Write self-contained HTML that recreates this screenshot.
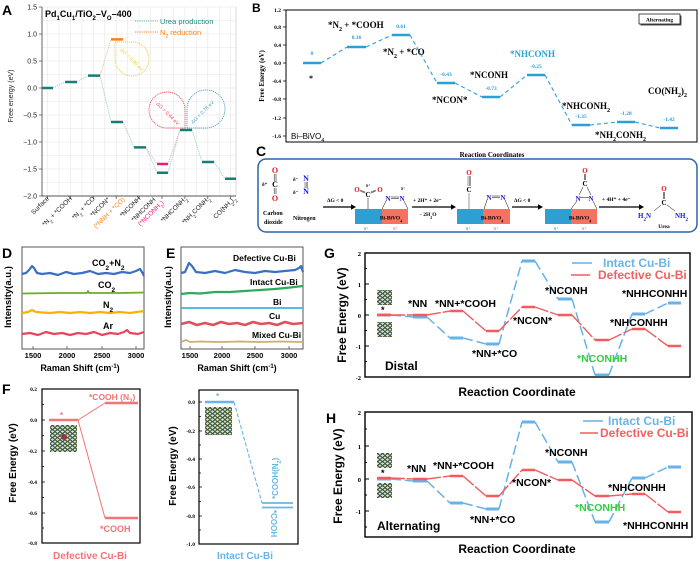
<!DOCTYPE html>
<html><head><meta charset="utf-8"><style>
html,body{margin:0;padding:0;background:#fff;}
svg{display:block;}
text{font-family:"Liberation Sans",Arial,sans-serif;}
text.s,.s text,.s tspan{font-family:"Liberation Serif","Times New Roman",serif;font-weight:bold;}
text.b,.b text{font-weight:bold;}
</style></head><body>
<svg width="700" height="563" viewBox="0 0 700 563" xmlns="http://www.w3.org/2000/svg">
<defs>
<pattern id="cry" width="5" height="4" patternUnits="userSpaceOnUse"><rect width="5" height="4" fill="#c8e4ec"/><path d="M0,4 Q2.5,-0.5 5,4 M-2.5,2 Q0,-2 2.5,2 M2.5,2 Q5,-2 7.5,2" stroke="#3d4a1c" stroke-width="1" fill="none"/></pattern>
</defs>

<!-- ================= PANEL A ================= -->
<text x="2" y="15" font-size="14" class="b">A</text>
<path d="M42,20.5H236M42,34H236M42,47.5H236M42,61H236M42,74.5H236M42,88H236M42,101.5H236M42,115H236M42,128.5H236M42,142H236M42,155.5H236M42,169H236M42,182.5H236M42,7H236" stroke="#e6e6e6" stroke-width="0.6"/>
<path d="M47.5,7V196M59,7V196M70.4,7V196M81.9,7V196M93.3,7V196M104.8,7V196M116.2,7V196M127.7,7V196M139.1,7V196M150.6,7V196M162,7V196M173.5,7V196M184.9,7V196M196.4,7V196M207.8,7V196M219.3,7V196M230.7,7V196" stroke="#e6e6e6" stroke-width="0.6"/>
<path d="M236,7V196" stroke="#d0d0d0" stroke-width="0.8"/>
<path d="M42,7V196H236" stroke="#555" stroke-width="0.9" fill="none"/>
<path d="M39,7H42M39,34H42M39,61H42M39,88H42M39,115H42M39,142H42M39,169H42M39,196H42M47.5,196V199M70.4,196V199M93.3,196V199M116.2,196V199M139.1,196V199M162,196V199M184.9,196V199M207.8,196V199M230.7,196V199" stroke="#555" stroke-width="0.8"/>
<g font-size="7" text-anchor="end" fill="#222">
<text x="37" y="9.5">1.5</text><text x="37" y="36.5">1.0</text><text x="37" y="63.5">0.5</text><text x="37" y="90.5">0.0</text>
<text x="37" y="117.5">−0.5</text><text x="37" y="144.5">−1.0</text><text x="37" y="171.5">−1.5</text><text x="37" y="198.5">−2.0</text>
</g>
<text transform="translate(13,96) rotate(-90)" font-size="7" text-anchor="middle" fill="#222">Free energy (eV)</text>
<text x="45" y="17" font-size="9" class="b">Pd<tspan font-size="6" baseline-shift="sub">1</tspan>Cu<tspan font-size="6" baseline-shift="sub">1</tspan>/TiO<tspan font-size="6" baseline-shift="sub">2</tspan>–V<tspan font-size="6" baseline-shift="sub">O</tspan>–400</text>
<path d="M135,21H158" stroke="#5fb8b0" stroke-width="0.9" stroke-dasharray="1.2,1"/>
<text x="160" y="24" font-size="7.5" fill="#1b8a80">Urea production</text>
<path d="M135,32H158" stroke="#f5821f" stroke-width="0.9" stroke-dasharray="1.2,1"/>
<text x="160" y="35" font-size="7.5" fill="#f5821f">N<tspan font-size="5" baseline-shift="sub">2</tspan> reduction</text>
<g stroke="#8fcfc8" stroke-width="0.9" stroke-dasharray="1.2,1" fill="none">
<path d="M53,88L65,82M77,82L88,75.6M100,75.6L111,122M123,122L134,147.4M146,147.4L157,172.8M168,172.8L180,130M192,130L202,162M214,162L225,178.7"/>
</g>
<path d="M100,75.6L111,39.4" stroke="#f7b38a" stroke-width="0.9" stroke-dasharray="1.2,1"/>
<path d="M146,147.4L157,164M168,164L180,130" stroke="#f3a0c4" stroke-width="0.9" stroke-dasharray="1.2,1"/>
<path d="M115,42L133,42A17,17 0 1 1 115,60Z" fill="none" stroke="#f5c842" stroke-width="0.9" stroke-dasharray="1.2,0.8"/>
<text transform="translate(120,50) rotate(45)" font-size="5" fill="#f5c842">ΔG = 0.90 eV</text>
<path d="M185,128L185,110A18,18 0 1 0 167,128Z" fill="none" stroke="#ef4a5a" stroke-width="0.9" stroke-dasharray="1.2,0.8"/>
<text transform="translate(156,104) rotate(45)" font-size="5" fill="#ef4a5a">ΔG = 0.64 eV</text>
<path d="M187,128L187,110A19,19 0 1 1 206,128Z" fill="none" stroke="#4aa0b8" stroke-width="0.9" stroke-dasharray="1.2,0.8"/>
<text transform="translate(193,124) rotate(-45)" font-size="5" fill="#4aa0b8">ΔG = 0.78 eV</text>
<g stroke="#177e74" stroke-width="2.5">
<path d="M42,88H53M65,82H77M88,75.6H100M111,122H123M134,147.4H146M157,172.8H168M180,130H192M202,162H214M225,178.7H236"/>
</g>
<path d="M111,39.4H123" stroke="#f5821f" stroke-width="2.5"/>
<path d="M157,164H168" stroke="#ec1c7c" stroke-width="2.5"/>
<g font-size="6.5" text-anchor="end" fill="#222">
<text transform="translate(49.5,199) rotate(-45)">Surface</text>
<text transform="translate(72.4,199) rotate(-45)">*N<tspan font-size="4.5" baseline-shift="sub">2</tspan> + *COOH</text>
<text transform="translate(95.3,199) rotate(-45)">*N<tspan font-size="4.5" baseline-shift="sub">2</tspan> + *CO</text>
<text transform="translate(110,200) rotate(-45)">*NCON*</text>
<text transform="translate(125,200) rotate(-45)" fill="#f5821f">(*NNH + *CO)</text>
<text transform="translate(141,199) rotate(-45)">*NCONH</text>
<text transform="translate(156,200) rotate(-45)">*NHCONH</text>
<text transform="translate(164,203) rotate(-45)" fill="#ec1c7c">(*NCONH<tspan font-size="4.5" baseline-shift="sub">2</tspan>)</text>
<text transform="translate(187,199) rotate(-45)">*NHCONH<tspan font-size="4.5" baseline-shift="sub">2</tspan></text>
<text transform="translate(210,199) rotate(-45)">*NH<tspan font-size="4.5" baseline-shift="sub">2</tspan>CONH<tspan font-size="4.5" baseline-shift="sub">2</tspan></text>
<text transform="translate(236,199) rotate(-45)">CO(NH<tspan font-size="4.5" baseline-shift="sub">2</tspan>)<tspan font-size="4.5" baseline-shift="sub">2</tspan></text>
</g>

<!-- ================= PANEL B ================= -->
<text x="252" y="12" font-size="12" class="b">B</text>
<rect x="286" y="10" width="411" height="132" fill="none" stroke="#000" stroke-width="1"/>
<path d="M283,10H286M283,27H286M283,45H286M283,63H286M283,81H286M283,99H286M283,118H286M283,136H286" stroke="#000" stroke-width="0.7"/>
<g class="s" font-size="5.5" text-anchor="end">
<text x="281" y="12">1.2</text><text x="281" y="29">0.8</text><text x="281" y="47">0.4</text><text x="281" y="65">0.0</text>
<text x="281" y="83">-0.4</text><text x="281" y="101">-0.8</text><text x="281" y="120">-1.2</text><text x="281" y="138">-1.6</text>
</g>
<text transform="translate(264,76) rotate(-90)" class="s" font-size="7" text-anchor="middle">Free Energy (eV)</text>
<path d="M321,63L347,47M366,47L392,35M410,35L437,83M455,83L482,97M500,97L527,75M545,75L572,125M590,125L617,122M635,122L660,128" stroke="#2aa0d6" stroke-width="1.1" stroke-dasharray="4,3" fill="none"/>
<path d="M303,63H321M347,47H366M392,35H410M437,83H455M482,97H500M527,75H545M572,125H590M617,122H635M660,128H678" stroke="#2aa0d6" stroke-width="2.6"/>
<g class="s" font-size="5.5" text-anchor="middle" fill="#2aa0d6">
<text x="312" y="55">0</text><text x="356.5" y="39">0.36</text><text x="401" y="28">0.61</text><text x="446" y="76">-0.43</text>
<text x="491" y="90">-0.73</text><text x="536" y="68">-0.25</text><text x="581" y="118">-1.35</text><text x="626" y="115">-1.28</text><text x="669" y="121">-1.42</text>
</g>
<g class="s" font-size="9">
<text x="309" y="81" font-size="8">*</text>
<text x="328" y="28">*N<tspan font-size="6" baseline-shift="sub">2</tspan> + *COOH</text>
<text x="383" y="55">*N<tspan font-size="6" baseline-shift="sub">2</tspan> + *CO</text>
<text x="432" y="103">*NCON*</text>
<text x="470" y="78">*NCONH</text>
<text x="510" y="57" fill="#2aa0d6">*NHCONH</text>
<text x="562" y="109">*NHCONH<tspan font-size="6" baseline-shift="sub">2</tspan></text>
<text x="595" y="138">*NH<tspan font-size="6" baseline-shift="sub">2</tspan>CONH<tspan font-size="6" baseline-shift="sub">2</tspan></text>
<text x="648" y="94">CO(NH<tspan font-size="6" baseline-shift="sub">2</tspan>)<tspan font-size="6" baseline-shift="sub">2</tspan></text>
</g>
<rect x="640.5" y="15.5" width="41" height="10" fill="#555"/>
<rect x="639" y="14" width="41" height="10" fill="#fff" stroke="#000" stroke-width="0.7"/>
<text x="659.5" y="21.5" class="s" font-size="5.5" text-anchor="middle">Alternating</text>
<text x="291" y="139" font-size="8">Bi–BiVO<tspan font-size="5.5" baseline-shift="sub">4</tspan></text>

<!-- ================= PANEL C ================= -->
<text x="256" y="156" font-size="14" class="b">C</text>
<text x="492" y="157" class="s" font-size="7" text-anchor="middle">Reaction Coordinates</text>
<rect x="258" y="159" width="439" height="73" rx="8" fill="none" stroke="#2b63ad" stroke-width="1.5"/>
<g class="s">
<text x="275" y="173" font-size="8" fill="#e8141e" text-anchor="middle">O</text>
<text x="275" y="187" font-size="8" text-anchor="middle">C</text>
<text x="275" y="201" font-size="8" fill="#e8141e" text-anchor="middle">O</text>
<path d="M274.2,174V181M276,174V181M274.2,188V194M276,188V194" stroke="#000" stroke-width="0.5"/>
<text x="262" y="186" font-size="5">δ⁺</text>
<text x="293" y="181" font-size="5">δ⁻</text>
<text x="306" y="181" font-size="8" fill="#1a1adc" text-anchor="middle">N</text>
<text x="293" y="194" font-size="5">δ⁻</text>
<text x="306" y="194" font-size="8" fill="#1a1adc" text-anchor="middle">N</text>
<path d="M305,182V188M306.2,182V188M307.4,182V188" stroke="#000" stroke-width="0.4"/>
<text x="263" y="215" font-size="6">Carbon</text>
<text x="264" y="224" font-size="6">dioxide</text>
<text x="293" y="220" font-size="6">Nitrogen</text>
<path d="M323,207H351" stroke="#000" stroke-width="1.2"/><path d="M351,204.3L356,207L351,209.7Z"/>
<text x="327" y="202" font-size="5.5">ΔG &lt; 0</text>
<rect x="355" y="209" width="27" height="15" fill="#2e9fd0"/><rect x="382" y="209" width="26" height="15" fill="#f4725f"/>
<text x="391" y="219.5" font-size="5.5" text-anchor="middle">Bi-BiVO<tspan font-size="4" baseline-shift="sub">4</tspan></text>
<text x="364" y="230" font-size="4" fill="#2e9fd0">δ⁺</text><text x="393" y="230" font-size="4" fill="#f4725f">δ⁺</text>
<text x="368" y="197" font-size="7" text-anchor="middle">C</text>
<text x="357" y="192" font-size="7" fill="#e8141e" text-anchor="middle">O</text>
<text x="380" y="192" font-size="7" fill="#e8141e" text-anchor="middle">O</text>
<text x="366" y="187" font-size="4">δ⁺</text>
<path d="M365,192L360,190M365.5,193.2L360.5,191.2M371,192L376,190M370.5,193.2L375.5,191.2M368,198V209" stroke="#000" stroke-width="0.5"/>
<text x="388" y="201" font-size="7" fill="#1a1adc" text-anchor="middle">N</text>
<text x="402" y="201" font-size="7" fill="#1a1adc" text-anchor="middle">N</text>
<text x="401" y="190" font-size="4">δ⁻</text>
<path d="M391,197H399M391,198.7H399M386,201L382,209M404,201L408,209" stroke="#000" stroke-width="0.5"/>
<path d="M412,207H451" stroke="#000" stroke-width="1.2"/><path d="M451,204.3L456,207L451,209.7Z"/>
<text x="413" y="202" font-size="5.5">+ 2H⁺ + 2e⁻</text>
<text x="420" y="216" font-size="5.5">- 2H<tspan font-size="4" baseline-shift="sub">2</tspan>O</text>
<rect x="457" y="209" width="26" height="15" fill="#2e9fd0"/><rect x="483" y="209" width="27" height="15" fill="#f4725f"/>
<text x="492" y="219.5" font-size="5.5" text-anchor="middle">Bi-BiVO<tspan font-size="4" baseline-shift="sub">4</tspan></text>
<text x="466" y="230" font-size="4" fill="#2e9fd0">δ⁺</text><text x="494" y="230" font-size="4" fill="#f4725f">δ⁺</text>
<text x="469" y="175" font-size="7" fill="#e8141e" text-anchor="middle">O</text>
<text x="469" y="192" font-size="7" text-anchor="middle">C</text>
<path d="M468,176V186M469.3,176V186M470.6,176V186M469,193V209" stroke="#000" stroke-width="0.4"/>
<text x="489" y="200" font-size="7" fill="#1a1adc" text-anchor="middle">N</text>
<text x="503" y="200" font-size="7" fill="#1a1adc" text-anchor="middle">N</text>
<path d="M492,196H500M492,197.7H500M487,200L484,209M505,200L509,209" stroke="#000" stroke-width="0.5"/>
<path d="M512,207H538" stroke="#000" stroke-width="1.2"/><path d="M538,204.3L543,207L538,209.7Z"/>
<text x="514" y="202" font-size="5.5">ΔG &lt; 0</text>
<rect x="545" y="209" width="26" height="15" fill="#2e9fd0"/><rect x="571" y="209" width="26" height="15" fill="#f4725f"/>
<text x="580" y="219.5" font-size="5.5" text-anchor="middle">Bi-BiVO<tspan font-size="4" baseline-shift="sub">4</tspan></text>
<text x="554" y="230" font-size="4" fill="#2e9fd0">δ⁺</text><text x="582" y="230" font-size="4" fill="#f4725f">δ⁺</text>
<text x="585" y="173" font-size="7" fill="#e8141e" text-anchor="middle">O</text>
<text x="585" y="186" font-size="7" text-anchor="middle">C</text>
<path d="M584.3,174V180M585.7,174V180M583,187L579,195M587,187L591,195M580,197.5H589M577,201L571,209M593,201L597,209" stroke="#000" stroke-width="0.5"/>
<text x="578" y="201" font-size="7" fill="#1a1adc" text-anchor="middle">N</text>
<text x="591" y="201" font-size="7" fill="#1a1adc" text-anchor="middle">N</text>
<path d="M599,207H639" stroke="#000" stroke-width="1.2"/><path d="M639,204.3L644,207L639,209.7Z"/>
<text x="602" y="201" font-size="5.5">+ 4H⁺ + 4e⁻</text>
<text x="664" y="191" font-size="7" fill="#e8141e" text-anchor="middle">O</text>
<text x="664" y="205" font-size="7" text-anchor="middle">C</text>
<path d="M663.3,192V199M664.7,192V199M661,205L654,211M667,205L675,211" stroke="#000" stroke-width="0.5"/>
<text x="638" y="218" font-size="7" fill="#1a1adc">H<tspan font-size="5" baseline-shift="sub">2</tspan>N</text>
<text x="675" y="218" font-size="7" fill="#1a1adc">NH<tspan font-size="5" baseline-shift="sub">2</tspan></text>
<text x="664" y="228" font-size="5.5" text-anchor="middle">Urea</text>
</g>

<!-- ================= PANEL D ================= -->
<text x="2" y="258" font-size="14" class="b">D</text>
<rect x="22" y="247" width="122" height="102" fill="none" stroke="#555" stroke-width="1"/>
<path d="M33,349V346M67,349V346M102,349V346M136,349V346" stroke="#555" stroke-width="0.8"/>
<g fill="none" stroke-width="2.2" stroke-linejoin="round">
<path d="M22,274L26,273L29,270L32,266L34,268L37,273L42,274L50,273L58,275L66,272L74,274L82,273L90,271L98,274L106,273L114,274L122,272L130,273L136,271L140,269L142,272L144,276" stroke="#3a6fc4"/>
<path d="M22,293.5L60,293L87,293L88,291L89,293L120,293L144,292.5" stroke="#6aae2a" stroke-width="1.8"/>
<path d="M22,313L28,312L32,310L36,312L50,313L60,312L70,313L80,312L90,313L100,312L110,313L120,312L130,313L144,311" stroke="#f6b400"/>
<path d="M22,334L30,333L38,335L46,332L54,334L62,333L70,335L78,333L86,334L94,332L102,335L110,333L118,334L124,332L127,330L130,333L138,334L144,332" stroke="#e8455a"/>
</g>
<g class="b" font-size="9">
<text x="92" y="266">CO<tspan font-size="6.5" baseline-shift="sub">2</tspan>+N<tspan font-size="6.5" baseline-shift="sub">2</tspan></text>
<text x="98" y="288">CO<tspan font-size="6.5" baseline-shift="sub">2</tspan></text>
<text x="103" y="308">N<tspan font-size="6.5" baseline-shift="sub">2</tspan></text>
<text x="103" y="329">Ar</text>
</g>
<g class="b" font-size="7.5" text-anchor="middle">
<text x="33" y="358">1500</text><text x="67" y="358">2000</text><text x="102" y="358">2500</text><text x="136" y="358">3000</text>
</g>
<text x="80" y="371" class="b" font-size="9" text-anchor="middle">Raman Shift (cm<tspan font-size="6" baseline-shift="super">-1</tspan>)</text>
<text transform="translate(11,297) rotate(-90)" class="b" font-size="9.5" text-anchor="middle">Intensity(a.u.)</text>

<!-- ================= PANEL E ================= -->
<text x="166" y="258" font-size="14" class="b">E</text>
<rect x="181" y="247" width="122" height="102" fill="none" stroke="#555" stroke-width="1"/>
<path d="M190,349V346M222,349V346M255,349V346M289,349V346" stroke="#555" stroke-width="0.8"/>
<g fill="none" stroke-width="2.2" stroke-linejoin="round">
<path d="M181,273L185,272L189,263L192,266L196,272L205,273L215,271L225,273L235,270L245,272L255,273L265,271L275,272L285,271L295,270L299,268L301,266L303,272" stroke="#3a6fc4"/>
<path d="M181,294L190,293L200,293.5L215,292L230,292L245,291L260,290L275,289L290,287.5L303,286" stroke="#2eaa5c"/>
<path d="M181,308L303,308" stroke="#3ab4dc" stroke-width="1.8"/>
<path d="M181,324L189,322L197,325L205,323L213,325L221,322L229,324L237,323L245,325L253,322L261,324L269,323L277,325L285,322L293,324L303,323" stroke="#d9545c" stroke-width="2.6"/>
<path d="M181,342L186,340L190,342L200,341.5L220,342L240,341.5L260,342L280,341.5L303,342" stroke="#c8b070" stroke-width="1.8"/>
</g>
<g class="b" font-size="8.5">
<text x="233" y="261">Defective Cu-Bi</text>
<text x="250" y="285">Intact Cu-Bi</text>
<text x="273" y="305">Bi</text>
<text x="269" y="319">Cu</text>
<text x="252" y="338">Mixed Cu-Bi</text>
</g>
<g class="b" font-size="7.5" text-anchor="middle">
<text x="190" y="358">1500</text><text x="222" y="358">2000</text><text x="255" y="358">2500</text><text x="289" y="358">3000</text>
</g>
<text x="237" y="371" class="b" font-size="9" text-anchor="middle">Raman Shift (cm<tspan font-size="6" baseline-shift="super">-1</tspan>)</text>
<text transform="translate(171,297) rotate(-90)" class="b" font-size="9.5" text-anchor="middle">Intensity(a.u.)</text>

<!-- ================= PANEL F ================= -->
<text x="2" y="394" font-size="14" class="b">F</text>
<rect x="42" y="389" width="98" height="154" fill="none" stroke="#000" stroke-width="1.2"/>
<path d="M42,389H45M42,420H45M42,451H45M42,482H45M42,513H45M42,543H45M42,404.5H44M42,435.5H44M42,466.5H44M42,497.5H44M42,528H44" stroke="#000" stroke-width="0.8"/>
<g class="s" font-size="5.5" text-anchor="end">
<text x="37" y="391">0.2</text><text x="37" y="422">0.0</text><text x="37" y="453">-0.2</text><text x="37" y="484">-0.4</text><text x="37" y="515">-0.6</text><text x="37" y="545">-0.8</text>
</g>
<text transform="translate(16,463) rotate(-90)" class="b" font-size="10" text-anchor="middle">Free Energy (eV)</text>
<path d="M49,420H78M105,403H138M105,518H138" stroke="#f37474" stroke-width="2.5"/>
<path d="M78,420L105,403M78,420L105,518" stroke="#f37474" stroke-width="1"/>
<rect x="50" y="425" width="27" height="27" fill="url(#cry)"/>
<circle cx="64" cy="437" r="3" fill="#a0304a"/>
<text x="60" y="418" font-size="8" fill="#f37474" class="b">*</text>
<text x="89" y="400" font-size="8.5" fill="#f37474" class="b">*COOH (N<tspan font-size="6" baseline-shift="sub">2</tspan>)</text>
<text x="100" y="532" font-size="9" fill="#f37474" class="b">*COOH</text>
<text x="90" y="559" font-size="10" fill="#f37474" class="b" text-anchor="middle">Defective Cu-Bi</text>

<rect x="199" y="390" width="99" height="154" fill="none" stroke="#000" stroke-width="1.2"/>
<path d="M199,402H202M199,431H202M199,459H202M199,487H202M199,516H202M199,544H202M199,416.5H201M199,445H201M199,473H201M199,501.5H201M199,530H201" stroke="#000" stroke-width="0.8"/>
<g class="s" font-size="5.5" text-anchor="end">
<text x="195" y="404">0.0</text><text x="195" y="433">-0.2</text><text x="195" y="461">-0.4</text><text x="195" y="489">-0.6</text><text x="195" y="518">-0.8</text><text x="195" y="546">-1.0</text>
</g>
<text transform="translate(176,466) rotate(-90)" class="b" font-size="10" text-anchor="middle">Free Energy (eV)</text>
<path d="M205,402H234" stroke="#6cb4e6" stroke-width="2.5"/>
<path d="M234,402L262,503" stroke="#6cb4e6" stroke-width="1.1" stroke-dasharray="4,2"/>
<path d="M262,503H293M262,507.5H293" stroke="#6cb4e6" stroke-width="1.8"/>
<rect x="205" y="407" width="27" height="28" fill="url(#cry)"/>
<text x="216" y="399" font-size="8" fill="#6cb4e6" class="b">*</text>
<text transform="translate(278,499) rotate(-90)" font-size="8" fill="#6cb4e6" class="b">*COOH(N<tspan font-size="5.5" baseline-shift="sub">2</tspan>)</text>
<text transform="translate(271,510) rotate(90)" font-size="8" fill="#6cb4e6" class="b">*COOH</text>
<text x="245" y="559" font-size="10" fill="#6cb4e6" class="b" text-anchor="middle">Intact Cu-Bi</text>

<!-- ================= PANEL G ================= -->
<text x="324" y="258" font-size="14" class="b">G</text>
<text transform="translate(346,315) rotate(-90)" class="b" font-size="12" text-anchor="middle">Free Energy (eV)</text>
<rect x="365" y="253" width="325" height="124" fill="none" stroke="#000" stroke-width="1.4"/>
<path d="M365,253H369M365,284H369M365,315H369M365,346H369M365,377H369M365,268.5H367M365,299.5H367M365,330.5H367M365,361.5H367" stroke="#000" stroke-width="0.9"/>
<g class="s" font-size="6.5" text-anchor="end">
<text x="361" y="256">2</text><text x="361" y="287">1</text><text x="361" y="318">0</text><text x="361" y="349">-1</text><text x="361" y="380">-2</text>
</g>
<path d="M391,315L413,317M427,317L450,338M463,338L486,344M499,344L522,261M535,261L558,299M572,299L595,375M609,375L632,314M645,314L668,303" stroke="#67b2e6" stroke-width="1.5" stroke-dasharray="10,4" fill="none"/>
<path d="M377,315H391M413,317H427M450,338H463M486,344H499M522,261H535M558,299H572M595,375H609M632,314H645M668,303H681" stroke="#67b2e6" stroke-width="3"/>
<path d="M391,315L413,315M427,315L450,311M463,311L486,331M499,331L522,307M535,307L558,315M572,315L595,340M609,340L632,329M645,329L668,346" stroke="#f25c5c" stroke-width="1.4" stroke-dasharray="14,2" fill="none"/>
<path d="M377,315H391M413,315H427M450,311H463M486,331H499M522,307H535M558,315H572M595,340H609M632,329H645M668,346H681" stroke="#f25c5c" stroke-width="2.6"/>
<rect x="377" y="290" width="15" height="15" fill="url(#cry)"/>
<rect x="377" y="322" width="15" height="15" fill="url(#cry)"/>
<text x="381" y="313" font-size="9" class="b">*</text>
<path d="M572,263H592" stroke="#67b2e6" stroke-width="1.6"/>
<path d="M571,275H590" stroke="#f25c5c" stroke-width="1.6"/>
<text x="603" y="267" font-size="12" class="b" fill="#6ab4e8">Intact Cu-Bi</text>
<text x="598" y="279" font-size="12" class="b" fill="#f26060">Defective Cu-Bi</text>
<g class="b" font-size="10.5">
<text x="408" y="307">*NN</text>
<text x="435" y="307">*NN+*COOH</text>
<text x="472" y="357">*NN+*CO</text>
<text x="513" y="324">*NCON*</text>
<text x="545" y="294">*NCONH</text>
<text x="577" y="362" fill="#33cc44">*NCONHH</text>
<text x="610" y="326">*NHCONHH</text>
<text x="622" y="297">*NHHCONHH</text>
</g>
<text x="385" y="370" class="b" font-size="12">Distal</text>
<text x="517" y="396" class="b" font-size="12" text-anchor="middle">Reaction Coordinate</text>

<!-- ================= PANEL H ================= -->
<text x="326" y="423" font-size="14" class="b">H</text>
<text transform="translate(342,476) rotate(-90)" class="b" font-size="12" text-anchor="middle">Free Energy (eV)</text>
<rect x="365" y="412" width="327" height="125" fill="none" stroke="#000" stroke-width="1.4"/>
<path d="M365,412H369M365,446H369M365,479H369M365,511H369M365,429H367M365,462.5H367M365,495H367M365,527H367" stroke="#000" stroke-width="0.9"/>
<g class="s" font-size="6.5" text-anchor="end">
<text x="361" y="415">2</text><text x="361" y="449">1</text><text x="361" y="482">0</text><text x="361" y="514">-1</text>
</g>
<path d="M391,479L413,481M427,481L450,503M463,503L486,509M499,509L522,422M535,422L558,462M572,462L595,522M609,522L632,478M645,478L668,467" stroke="#67b2e6" stroke-width="1.5" stroke-dasharray="10,4" fill="none"/>
<path d="M377,479H391M413,481H427M450,503H463M486,509H499M522,422H535M558,462H572M595,522H609M632,478H645M668,467H681" stroke="#67b2e6" stroke-width="3"/>
<path d="M391,478L413,479M427,479L450,476M463,476L486,496M499,496L522,470M535,470L558,480M572,480L595,496M609,496L632,494M645,494L668,512" stroke="#f25c5c" stroke-width="1.4" stroke-dasharray="14,2" fill="none"/>
<path d="M377,478H391M413,479H427M450,476H463M486,496H499M522,470H535M558,480H572M595,496H609M632,494H645M668,512H681" stroke="#f25c5c" stroke-width="2.6"/>
<rect x="377" y="453" width="15" height="15" fill="url(#cry)"/>
<rect x="377" y="483" width="15" height="15" fill="url(#cry)"/>
<text x="381" y="476" font-size="9" class="b">*</text>
<path d="M583,421H603" stroke="#67b2e6" stroke-width="1.6"/>
<path d="M580,433H598" stroke="#f25c5c" stroke-width="1.6"/>
<text x="608" y="425" font-size="12" class="b" fill="#6ab4e8">Intact Cu-Bi</text>
<text x="600" y="437" font-size="12" class="b" fill="#f26060">Defective Cu-Bi</text>
<g class="b" font-size="10.5">
<text x="407" y="472">*NN</text>
<text x="433" y="469">*NN+*COOH</text>
<text x="470" y="523">*NN+*CO</text>
<text x="512" y="486">*NCON*</text>
<text x="545" y="456">*NCONH</text>
<text x="575" y="511" fill="#33cc44">*NCONHH</text>
<text x="608" y="491">*NHCONHH</text>
<text x="623" y="529">*NHHCONHH</text>
</g>
<text x="377" y="530" class="b" font-size="12">Alternating</text>
<text x="517" y="553" class="b" font-size="12" text-anchor="middle">Reaction Coordinate</text>
</svg>
</body></html>
